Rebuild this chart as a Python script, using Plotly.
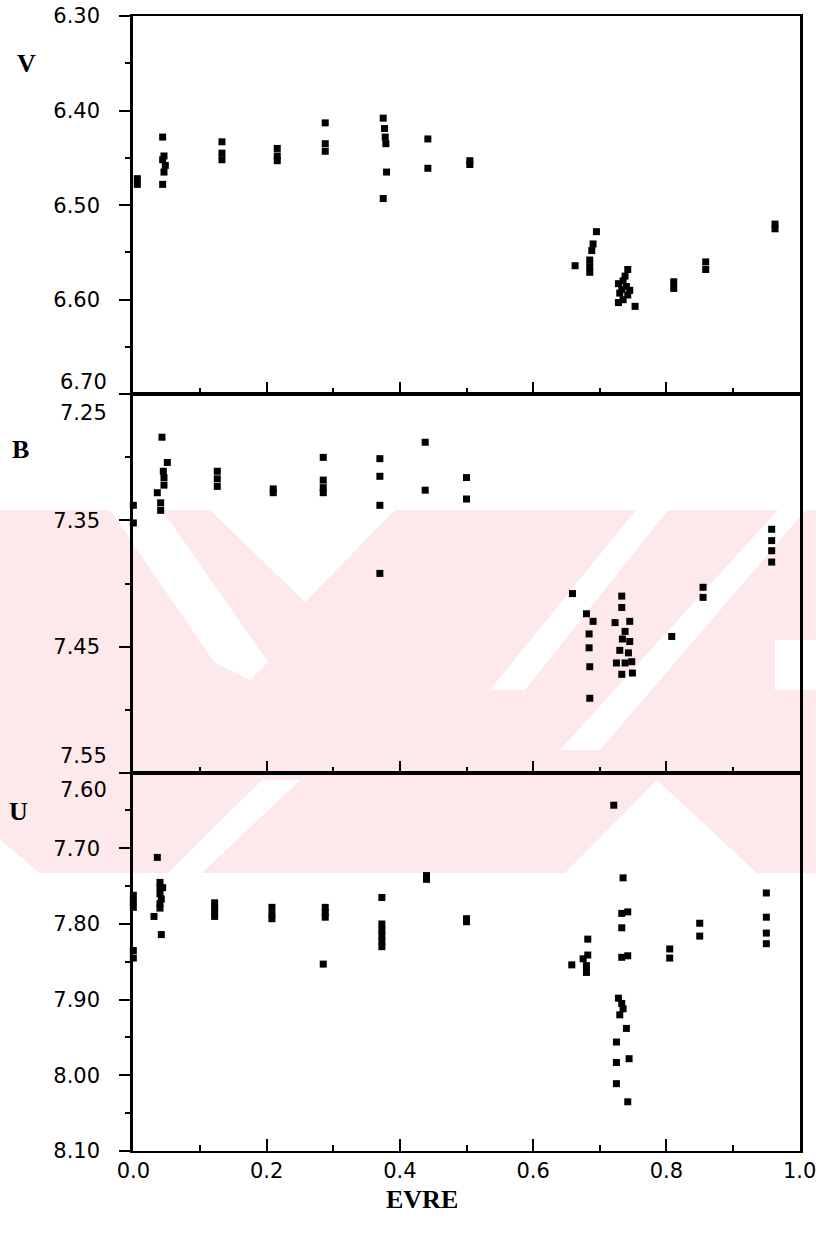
import plotly.graph_objects as go
from plotly.subplots import make_subplots

# ---------------- data (phase, magnitude) ----------------
phase_v = [0.006, 0.006,
           0.044, 0.046, 0.044, 0.048, 0.046, 0.044,
           0.133, 0.133, 0.133,
           0.216, 0.216, 0.216,
           0.288, 0.288, 0.288,
           0.375, 0.377, 0.378, 0.379, 0.380, 0.375,
           0.442, 0.442,
           0.505, 0.505,
           0.663, 0.685, 0.685, 0.685, 0.695, 0.690, 0.688,
           0.742, 0.738, 0.735, 0.728, 0.740, 0.733, 0.745, 0.730, 0.742, 0.735, 0.728, 0.753,
           0.811, 0.811,
           0.859, 0.859,
           0.963, 0.963]
mag_v = [6.472, 6.478,
         6.428, 6.448, 6.452, 6.458, 6.465, 6.478,
         6.433, 6.445, 6.452,
         6.440, 6.448, 6.453,
         6.413, 6.435, 6.443,
         6.408, 6.419, 6.428, 6.435, 6.465, 6.493,
         6.430, 6.461,
         6.453, 6.457,
         6.564, 6.558, 6.565, 6.571, 6.528, 6.541, 6.548,
         6.568, 6.575, 6.580, 6.583, 6.586, 6.589, 6.590, 6.593, 6.595, 6.600, 6.603, 6.607,
         6.581, 6.588,
         6.560, 6.568,
         6.520, 6.525]

phase_b = [0.000, 0.000,
           0.043, 0.051, 0.045, 0.046, 0.046, 0.036, 0.041, 0.041,
           0.126, 0.126, 0.126,
           0.210, 0.210,
           0.285, 0.285, 0.285, 0.285,
           0.370, 0.370, 0.370, 0.370,
           0.438, 0.438,
           0.500, 0.500,
           0.659,
           0.680, 0.690, 0.684, 0.684, 0.685, 0.685,
           0.733, 0.733,
           0.723, 0.745, 0.738, 0.734, 0.745, 0.730, 0.743, 0.748, 0.725, 0.738, 0.733, 0.749,
           0.808,
           0.855, 0.855,
           0.958, 0.958, 0.958, 0.958]
mag_b = [7.338, 7.352,
         7.284, 7.304, 7.311, 7.316, 7.322, 7.328, 7.336, 7.342,
         7.311, 7.317, 7.323,
         7.325, 7.328,
         7.300, 7.318, 7.324, 7.328,
         7.301, 7.315, 7.338, 7.392,
         7.288, 7.326,
         7.316, 7.333,
         7.408,
         7.424, 7.430, 7.440, 7.451, 7.466, 7.491,
         7.410, 7.419,
         7.431, 7.430, 7.438, 7.444, 7.446, 7.453, 7.455, 7.462, 7.463, 7.463, 7.472, 7.471,
         7.442,
         7.403, 7.411,
         7.357, 7.366, 7.374, 7.383]

phase_u = [0.000, 0.000, 0.000, 0.000, 0.000,
           0.036, 0.040, 0.040, 0.044, 0.040, 0.042, 0.040, 0.040, 0.031, 0.042,
           0.122, 0.122, 0.122, 0.122,
           0.208, 0.208, 0.208,
           0.288, 0.288, 0.288, 0.285,
           0.373, 0.373, 0.373, 0.373, 0.373, 0.373,
           0.440, 0.440,
           0.500, 0.500,
           0.658,
           0.682, 0.682, 0.675, 0.680, 0.680,
           0.721, 0.735,
           0.733, 0.742, 0.733,
           0.733, 0.742,
           0.728, 0.733, 0.735, 0.730,
           0.740, 0.725, 0.725, 0.744, 0.725, 0.742,
           0.805, 0.805,
           0.850, 0.850,
           0.950, 0.950, 0.950, 0.950]
mag_u = [7.762, 7.770, 7.778, 7.835, 7.845,
         7.712, 7.745, 7.752, 7.752, 7.760, 7.767, 7.773, 7.779, 7.790, 7.814,
         7.772, 7.778, 7.785, 7.790,
         7.778, 7.787, 7.793,
         7.778, 7.785, 7.791, 7.853,
         7.765, 7.800, 7.808, 7.815, 7.823, 7.830,
         7.736, 7.741,
         7.793, 7.797,
         7.854,
         7.820, 7.841, 7.846, 7.855, 7.864,
         7.643, 7.739,
         7.786, 7.784, 7.805,
         7.844, 7.842,
         7.898, 7.905, 7.912, 7.920,
         7.938, 7.956, 7.983, 7.978, 8.011, 8.035,
         7.833, 7.845,
         7.799, 7.816,
         7.759, 7.791, 7.812, 7.826]

x_ticks = [0.0, 0.2, 0.4, 0.6, 0.8, 1.0]
x_ticktext = ["0.0", "0.2", "0.4", "0.6", "0.8", "1.0"]

v_range = [6.70, 6.30]
b_range = [7.55, 7.25]
u_range = [8.10, 7.60]

v_ticks = [6.30, 6.40, 6.50, 6.60, 6.70]
v_text = ["6.30", "6.40", "6.50", "6.60", ""]
b_ticks = [7.25, 7.35, 7.45, 7.55]
b_text = ["", "7.35", "7.45", ""]
b_minor = [7.30, 7.40, 7.50]
u_ticks = [7.60, 7.70, 7.80, 7.90, 8.00, 8.10]
u_text = ["", "7.70", "7.80", "7.90", "8.00", "8.10"]

band_names = ["V", "B", "U"]

# ---------------- figure ----------------
W, H = 816, 1241
ML, MR, MT, MB = 133, 16, 16, 90

fig = make_subplots(rows=3, cols=1, vertical_spacing=0)

marker = dict(symbol="square", size=7, color="black", line=dict(width=0))
for i, (px, py) in enumerate([(phase_v, mag_v), (phase_b, mag_b), (phase_u, mag_u)]):
    fig.add_trace(go.Scatter(x=px, y=py, mode="markers", marker=marker,
                             showlegend=False, cliponaxis=False), row=i + 1, col=1)

tickfont = dict(family="DejaVu Sans", size=21, color="black")

for i in range(3):
    fig.update_xaxes(range=[-0.0005, 1.0005], tickmode="array", tickvals=x_ticks, ticktext=x_ticktext,
                     ticks="inside", ticklen=12, tickwidth=2, tickcolor="black",
                     minor=dict(dtick=0.1, tick0=0, ticks="inside", ticklen=6, tickwidth=2,
                                tickcolor="black", showgrid=False),
                     showline=True, linewidth=2, linecolor="black", mirror=True,
                     showgrid=False, zeroline=False, tickfont=tickfont,
                     ticklabeloverflow="allow", automargin=False,
                     showticklabels=(i == 2), row=i + 1, col=1)

common_y = dict(tickmode="array", ticks="outside", ticklen=11, tickwidth=2, tickcolor="black",
                showline=True, linewidth=2.5, linecolor="black", mirror=True,
                showgrid=False, zeroline=False, tickfont=tickfont, ticklabelstandoff=15,
                automargin=False)

fig.update_yaxes(range=v_range, tickvals=v_ticks, ticktext=v_text,
                 minor=dict(dtick=0.05, tick0=6.30, ticks="outside", ticklen=5, tickwidth=2,
                            tickcolor="black", showgrid=False), row=1, col=1, **common_y)
fig.update_yaxes(range=b_range, tickvals=b_ticks, ticktext=b_text,
                 minor=dict(tickvals=b_minor, ticks="outside", ticklen=5, tickwidth=2,
                            tickcolor="black", showgrid=False), row=2, col=1, **common_y)
fig.update_yaxes(range=u_range, tickvals=u_ticks, ticktext=u_text,
                 minor=dict(dtick=0.05, tick0=7.60, ticks="outside", ticklen=5, tickwidth=2,
                            tickcolor="black", showgrid=False), row=3, col=1, **common_y)

# boundary labels (split above/below the panel joins)
edge_labels = [("y", 6.70, "6.70", 12), ("y2", 7.25, "7.25", -19),
               ("y2", 7.55, "7.55", 17), ("y3", 7.60, "7.60", -17)]
for yref, val, txt, shift in edge_labels:
    fig.add_annotation(xref="paper", x=0, xanchor="right", xshift=-24,
                       yref=yref, y=val, yanchor="middle", yshift=shift,
                       text=txt, showarrow=False, font=tickfont)

# band names
name_pos = [(-0.160, 0.958), (-0.168, 0.618), (-0.172, 0.2987)]
for name, (xp, yp) in zip(band_names, name_pos):
    fig.add_annotation(xref="paper", yref="paper", x=xp, y=yp, text="<b>%s</b>" % name,
                       showarrow=False, xanchor="center", yanchor="middle",
                       font=dict(family="Liberation Serif", size=26, color="black"))

fig.add_annotation(xref="paper", yref="paper", x=0.433, y=-0.043, text="<b>EVRE</b>",
                   showarrow=False, xanchor="center", yanchor="middle",
                   font=dict(family="Liberation Serif", size=26, color="black"))

# ---------------- faint background watermark (decoration) ----------------
pw, ph = W - ML - MR, H - MT - MB


def pix_path(pts):
    s = []
    for k, (px_, py_) in enumerate(pts):
        s.append(("M" if k == 0 else "L") + "%.4f,%.4f" % ((px_ - ML) / pw, (H - MB - py_) / ph))
    return " ".join(s) + " Z"


pink = "#fde8ec"
band = [(0, 510), (816, 510), (816, 873), (0, 873)]
white_cuts = [
    [(110, 510), (162, 510), (268, 662), (250, 680), (214, 662)],
    [(210, 510), (395, 510), (305, 602)],
    [(636, 510), (668, 510), (525, 690), (490, 690)],
    [(778, 510), (806, 510), (600, 750), (560, 750)],
    [(657, 780), (757, 873), (565, 873)],
    [(775, 640), (816, 640), (816, 690), (775, 690)],
    [(168, 873), (202, 873), (300, 780), (262, 780)],
    [(0, 840), (40, 873), (0, 873)],
]
fig.add_shape(type="path", path=pix_path(band), xref="paper", yref="paper",
              fillcolor=pink, line=dict(width=0), layer="below")
for cut in white_cuts:
    fig.add_shape(type="path", path=pix_path(cut), xref="paper", yref="paper",
                  fillcolor="white", line=dict(width=0), layer="below")

fig.update_layout(width=W, height=H, margin=dict(l=ML, r=MR, t=MT, b=MB),
                  plot_bgcolor="rgba(0,0,0,0)", paper_bgcolor="white",
                  showlegend=False)

fig.write_html("out.html")
